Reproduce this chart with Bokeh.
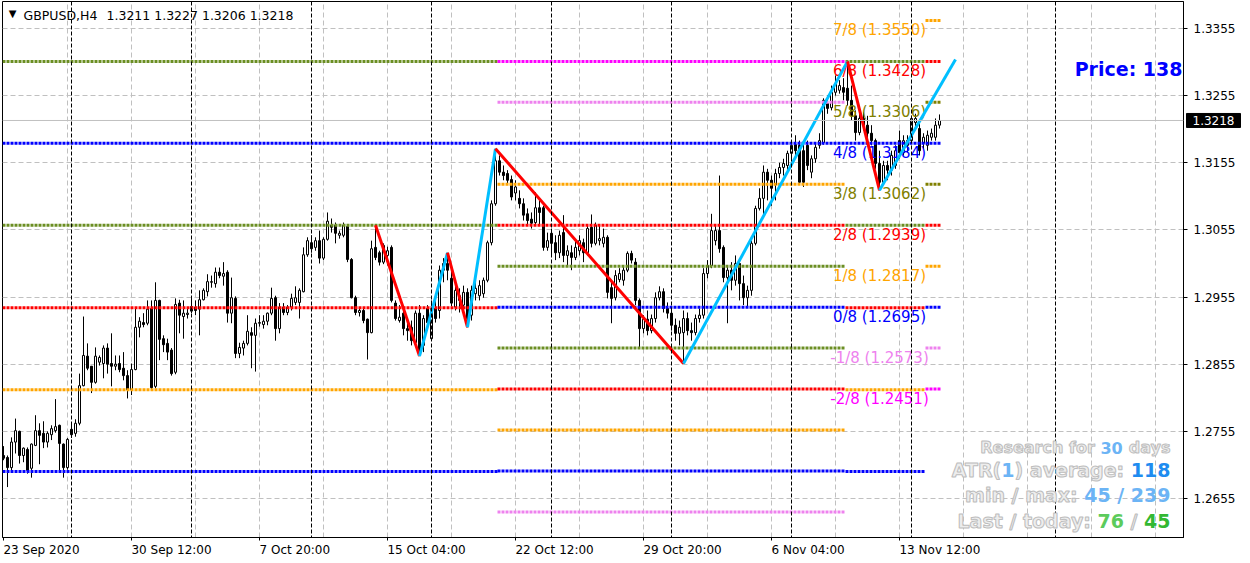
from bokeh.plotting import figure
from bokeh.models import Range1d, FixedTicker, Span, Label, ColumnDataSource, PrintfTickFormatter, LinearAxis
from bokeh.core.properties import value
from bokeh.embed import file_html
from bokeh.resources import INLINE

# ---------------- data ----------------
symbol = "GBPUSD,H4"
quote = "1.3211 1.3227 1.3206 1.3218"
last_price = 1.3218

opens = [
    1.2719, 1.2716, 1.2701, 1.2739, 1.2755, 1.2719, 1.2728, 1.2700, 1.2734, 1.2756,
    1.2752, 1.2739, 1.2750, 1.2756, 1.2764, 1.2736, 1.2701, 1.2758, 1.2752, 1.2767,
    1.2823, 1.2867, 1.2852, 1.2828, 1.2858, 1.2856, 1.2879, 1.2856, 1.2852, 1.2856,
    1.2849, 1.2838, 1.2817, 1.2847, 1.2910, 1.2917, 1.2916, 1.2938, 1.2822, 1.2950,
    1.2893, 1.2886, 1.2876, 1.2843, 1.2946, 1.2926, 1.2929, 1.2934, 1.2940, 1.2937,
    1.2951, 1.2963, 1.2977, 1.2975, 1.2992, 1.2986, 1.2992, 1.2931, 1.2953, 1.2871,
    1.2879, 1.2886, 1.2902, 1.2898, 1.2916, 1.2914, 1.2919, 1.2931, 1.2954, 1.2908,
    1.2940, 1.2932, 1.2940, 1.2947, 1.2947, 1.2963, 1.3018, 1.3036, 1.3029, 1.3039,
    1.3013, 1.3041, 1.3062, 1.3062, 1.3047, 1.3047, 1.3060, 1.3011, 1.2954, 1.2932,
    1.2935, 1.2922, 1.2902, 1.3029, 1.3021, 1.3007, 1.3017, 1.3029, 1.2946, 1.2920,
    1.2931, 1.2908, 1.2910, 1.2887, 1.2931, 1.2883, 1.2938, 1.2893, 1.2938, 1.2935,
    1.2995, 1.3005, 1.2983, 1.2940, 1.2950, 1.2943, 1.2962, 1.2928, 1.2960, 1.2957,
    1.2960, 1.2980, 1.3036, 1.3094, 1.3158, 1.3141, 1.3139, 1.3130, 1.3110, 1.3102,
    1.3094, 1.3079, 1.3071, 1.3066, 1.3088, 1.3088, 1.3029, 1.3050, 1.3036, 1.3021,
    1.3051, 1.3017, 1.3021, 1.3014, 1.3024, 1.3036, 1.3021, 1.3059, 1.3035, 1.3039,
    1.3035, 1.3044, 1.2969, 1.2954, 1.2981, 1.2980, 1.2995, 1.3020, 1.3007, 1.2950,
    1.2908, 1.2922, 1.2905, 1.2923, 1.2954, 1.2963, 1.2938, 1.2931, 1.2913, 1.2901,
    1.2902, 1.2923, 1.2905, 1.2902, 1.2923, 1.2928, 1.2990, 1.3002, 1.3039, 1.3054,
    1.3029, 1.2984, 1.2995, 1.2980, 1.3005, 1.2975, 1.2954, 1.2965, 1.3035, 1.3087,
    1.3102, 1.3141, 1.3129, 1.3122, 1.3139, 1.3148, 1.3151, 1.3169, 1.3182, 1.3181,
    1.3173, 1.3181, 1.3141, 1.3161, 1.3181, 1.3185, 1.3243, 1.3237, 1.3260, 1.3263,
    1.3267, 1.3266, 1.3248, 1.3225, 1.3200, 1.3221, 1.3211, 1.3199, 1.3188, 1.3154,
    1.3126, 1.3151, 1.3144, 1.3151, 1.3188, 1.3170, 1.3188, 1.3188, 1.3215, 1.3206,
    1.3184, 1.3181, 1.3193, 1.3193, 1.3211,
]
closes = [
    1.2715, 1.2701, 1.2739, 1.2756, 1.2719, 1.2730, 1.2697, 1.2736, 1.2756, 1.2749,
    1.2739, 1.2752, 1.2759, 1.2762, 1.2737, 1.2701, 1.2743, 1.2750, 1.2767, 1.2823,
    1.2868, 1.2849, 1.2828, 1.2867, 1.2865, 1.2879, 1.2855, 1.2852, 1.2855, 1.2847,
    1.2838, 1.2817, 1.2847, 1.2910, 1.2919, 1.2914, 1.2937, 1.2820, 1.2950, 1.2892,
    1.2884, 1.2873, 1.2841, 1.2944, 1.2928, 1.2931, 1.2931, 1.2941, 1.2935, 1.2951,
    1.2965, 1.2978, 1.2978, 1.2992, 1.2987, 1.2990, 1.2931, 1.2954, 1.2871, 1.2880,
    1.2886, 1.2904, 1.2898, 1.2916, 1.2917, 1.2919, 1.2931, 1.2953, 1.2908, 1.2940,
    1.2932, 1.2940, 1.2953, 1.2954, 1.2965, 1.3018, 1.3039, 1.3027, 1.3039, 1.3013,
    1.3041, 1.3068, 1.3059, 1.3050, 1.3050, 1.3062, 1.3011, 1.2954, 1.2932, 1.2935,
    1.2920, 1.2902, 1.3027, 1.3014, 1.3007, 1.3032, 1.3024, 1.2950, 1.2923, 1.2925,
    1.2908, 1.2905, 1.2890, 1.2931, 1.2876, 1.2923, 1.2917, 1.2938, 1.2923, 1.2995,
    1.3005, 1.2995, 1.2946, 1.2965, 1.2957, 1.2962, 1.2923, 1.2965, 1.2968, 1.2972,
    1.2980, 1.3036, 1.3094, 1.3158, 1.3141, 1.3136, 1.3129, 1.3104, 1.3119, 1.3094,
    1.3077, 1.3069, 1.3065, 1.3088, 1.3081, 1.3029, 1.3039, 1.3035, 1.3021, 1.3047,
    1.3017, 1.3024, 1.3014, 1.3029, 1.3039, 1.3021, 1.3057, 1.3035, 1.3062, 1.3042,
    1.3044, 1.2962, 1.2953, 1.2987, 1.2990, 1.2995, 1.3020, 1.3010, 1.2950, 1.2908,
    1.2922, 1.2905, 1.2923, 1.2954, 1.2963, 1.2938, 1.2931, 1.2913, 1.2901, 1.2910,
    1.2923, 1.2905, 1.2902, 1.2923, 1.2928, 1.2990, 1.3002, 1.3054, 1.3054, 1.3027,
    1.2984, 1.2995, 1.2980, 1.3005, 1.2975, 1.2954, 1.2965, 1.3035, 1.3087, 1.3102,
    1.3141, 1.3129, 1.3117, 1.3139, 1.3148, 1.3154, 1.3169, 1.3181, 1.3173, 1.3126,
    1.3126, 1.3151, 1.3161, 1.3178, 1.3188, 1.3248, 1.3236, 1.3260, 1.3273, 1.3270,
    1.3260, 1.3248, 1.3225, 1.3200, 1.3221, 1.3211, 1.3199, 1.3188, 1.3154, 1.3126,
    1.3151, 1.3144, 1.3166, 1.3173, 1.3170, 1.3188, 1.3181, 1.3221, 1.3221, 1.3173,
    1.3193, 1.3196, 1.3199, 1.3211, 1.3218,
]
highs = [
    1.2733, 1.2719, 1.2746, 1.2774, 1.2756, 1.2731, 1.2731, 1.2737, 1.2779, 1.2767,
    1.2770, 1.2755, 1.2764, 1.2803, 1.2765, 1.2737, 1.2745, 1.2767, 1.2773, 1.2841,
    1.2926, 1.2886, 1.2852, 1.2880, 1.2868, 1.2883, 1.2886, 1.2901, 1.2868, 1.2868,
    1.2873, 1.2846, 1.2856, 1.2938, 1.2925, 1.2931, 1.2950, 1.2950, 1.2977, 1.2951,
    1.2898, 1.2893, 1.2879, 1.2953, 1.2951, 1.2950, 1.2938, 1.2954, 1.2950, 1.2965,
    1.2968, 1.2989, 1.2987, 1.2999, 1.2999, 1.3007, 1.2995, 1.2984, 1.2956, 1.2887,
    1.2890, 1.2928, 1.2910, 1.2923, 1.2928, 1.2928, 1.2932, 1.2969, 1.2957, 1.2946,
    1.2946, 1.2943, 1.2960, 1.2971, 1.2968, 1.3029, 1.3044, 1.3047, 1.3044, 1.3054,
    1.3044, 1.3081, 1.3072, 1.3066, 1.3054, 1.3066, 1.3062, 1.3013, 1.2957, 1.2940,
    1.2940, 1.2923, 1.3039, 1.3062, 1.3024, 1.3035, 1.3030, 1.3032, 1.2950, 1.2943,
    1.2935, 1.2917, 1.2920, 1.2935, 1.2943, 1.2928, 1.2943, 1.2950, 1.2950, 1.3002,
    1.3013, 1.3021, 1.2998, 1.2972, 1.2968, 1.2972, 1.2968, 1.2972, 1.2977, 1.2980,
    1.2984, 1.3039, 1.3099, 1.3176, 1.3166, 1.3151, 1.3144, 1.3136, 1.3129, 1.3114,
    1.3102, 1.3087, 1.3081, 1.3111, 1.3099, 1.3091, 1.3051, 1.3057, 1.3047, 1.3054,
    1.3077, 1.3032, 1.3032, 1.3039, 1.3047, 1.3042, 1.3062, 1.3078, 1.3066, 1.3062,
    1.3057, 1.3047, 1.2980, 1.2995, 1.2998, 1.3002, 1.3023, 1.3024, 1.3013, 1.2953,
    1.2928, 1.2935, 1.2929, 1.2962, 1.2971, 1.2968, 1.2947, 1.2941, 1.2923, 1.2920,
    1.2935, 1.2932, 1.2917, 1.2929, 1.2938, 1.2998, 1.3010, 1.3079, 1.3062, 1.3136,
    1.3032, 1.3002, 1.3007, 1.3017, 1.3010, 1.2987, 1.2972, 1.3039, 1.3091, 1.3117,
    1.3151, 1.3146, 1.3136, 1.3146, 1.3155, 1.3161, 1.3173, 1.3185, 1.3196, 1.3188,
    1.3188, 1.3188, 1.3166, 1.3184, 1.3199, 1.3251, 1.3255, 1.3270, 1.3285, 1.3278,
    1.3281, 1.3306, 1.3270, 1.3233, 1.3230, 1.3230, 1.3225, 1.3211, 1.3191, 1.3173,
    1.3158, 1.3158, 1.3173, 1.3181, 1.3203, 1.3196, 1.3196, 1.3225, 1.3228, 1.3218,
    1.3199, 1.3203, 1.3206, 1.3221, 1.3227,
]
lows = [
    1.2712, 1.2672, 1.2697, 1.2722, 1.2707, 1.2709, 1.2692, 1.2686, 1.2733, 1.2706,
    1.2730, 1.2731, 1.2742, 1.2753, 1.2697, 1.2686, 1.2698, 1.2745, 1.2747, 1.2764,
    1.2822, 1.2846, 1.2812, 1.2826, 1.2853, 1.2834, 1.2841, 1.2822, 1.2846, 1.2843,
    1.2831, 1.2804, 1.2809, 1.2846, 1.2895, 1.2910, 1.2913, 1.2816, 1.2819, 1.2861,
    1.2873, 1.2861, 1.2838, 1.2840, 1.2901, 1.2893, 1.2923, 1.2931, 1.2928, 1.2898,
    1.2950, 1.2956, 1.2969, 1.2969, 1.2983, 1.2972, 1.2917, 1.2916, 1.2864, 1.2864,
    1.2868, 1.2883, 1.2849, 1.2844, 1.2911, 1.2908, 1.2913, 1.2928, 1.2890, 1.2901,
    1.2928, 1.2928, 1.2935, 1.2943, 1.2923, 1.2962, 1.3015, 1.3021, 1.3024, 1.3005,
    1.3010, 1.3039, 1.3051, 1.3035, 1.3042, 1.3044, 1.3007, 1.2953, 1.2928, 1.2926,
    1.2916, 1.2862, 1.2901, 1.3010, 1.3002, 1.3004, 1.3002, 1.2947, 1.2920, 1.2917,
    1.2898, 1.2890, 1.2883, 1.2883, 1.2867, 1.2873, 1.2905, 1.2890, 1.2917, 1.2923,
    1.2977, 1.2980, 1.2941, 1.2935, 1.2932, 1.2928, 1.2910, 1.2920, 1.2950, 1.2950,
    1.2954, 1.2977, 1.3032, 1.3091, 1.3136, 1.3129, 1.3122, 1.3099, 1.3099, 1.3087,
    1.3069, 1.3062, 1.3057, 1.3062, 1.3062, 1.3024, 1.3024, 1.3017, 1.3010, 1.3013,
    1.3007, 1.3002, 1.2995, 1.3010, 1.3017, 1.3007, 1.3017, 1.3029, 1.3032, 1.3032,
    1.3029, 1.2953, 1.2916, 1.2950, 1.2977, 1.2972, 1.2992, 1.3005, 1.2943, 1.2880,
    1.2901, 1.2898, 1.2901, 1.2917, 1.2950, 1.2932, 1.2923, 1.2905, 1.2890, 1.2883,
    1.2856, 1.2898, 1.2890, 1.2898, 1.2917, 1.2923, 1.2983, 1.2998, 1.3032, 1.3021,
    1.2977, 1.2916, 1.2965, 1.2972, 1.2950, 1.2943, 1.2941, 1.2957, 1.3032, 1.3084,
    1.3077, 1.3099, 1.3091, 1.3099, 1.3132, 1.3136, 1.3144, 1.3161, 1.3166, 1.3122,
    1.3119, 1.3144, 1.3132, 1.3155, 1.3176, 1.3182, 1.3228, 1.3233, 1.3255, 1.3258,
    1.3248, 1.3240, 1.3218, 1.3188, 1.3196, 1.3203, 1.3188, 1.3181, 1.3146, 1.3114,
    1.3122, 1.3129, 1.3136, 1.3146, 1.3161, 1.3166, 1.3170, 1.3185, 1.3206, 1.3166,
    1.3176, 1.3173, 1.3188, 1.3188, 1.3206,
]
assert len(opens) == len(closes) == len(highs) == len(lows) == 235

price_ticks = [1.2655, 1.2755, 1.2855, 1.2955, 1.3055, 1.3155, 1.3255, 1.3355]
date_ticks = [0, 32, 64, 96, 128, 160, 192, 224]
date_labels = ["23 Sep 2020", "30 Sep 12:00", "7 Oct 20:00", "15 Oct 04:00",
               "22 Oct 12:00", "29 Oct 20:00", "6 Nov 04:00", "13 Nov 12:00"]
grid_bars = list(range(16, 289, 16))
week_separators = [17, 47, 77, 107, 137, 167, 197, 227, 263]

# ZigZag turning points (bar index, price)
zz_bars = [93, 104, 111, 116, 123, 170, 211, 219, 238]
zz_prices = [1.3062, 1.2867, 1.3021, 1.2910, 1.3176, 1.2856, 1.3306, 1.3114, 1.3309]

# Murrey math levels
big_levels = [1.3306, 1.3184, 1.3062, 1.2939, 1.2817, 1.2695]
big_colors = ["#6B8E23", "#0000FF", "#6B8E23", "#FF0000", "#FFA500", "#0000FF"]
big_spans = [(-0.25, 123.5), (210.5, 230.5)]
small_levels = [1.3306, 1.3245, 1.3184, 1.3123, 1.3062, 1.3001,
                1.2940, 1.2879, 1.2818, 1.2757, 1.2696, 1.2635]
small_colors = ["#FF00FF", "#EE82EE", "#0000FF", "#FFA500", "#FF0000", "#6B8E23",
                "#0000FF", "#6B8E23", "#FF0000", "#FFA500", "#0000FF", "#EE82EE"]
small_span = (123.5, 210.5)
label_levels = [1.3367, 1.3306, 1.3245, 1.3184, 1.3123, 1.3062, 1.3001, 1.2940, 1.2879, 1.2818]
label_texts = ["7/8 (1.3550)", "6/8 (1.3428)", "5/8 (1.3306)", "4/8 (1.3184)", "3/8 (1.3062)",
               "2/8 (1.2939)", "1/8 (1.2817)", "0/8 (1.2695)", "-1/8 (1.2573)", "-2/8 (1.2451)"]
label_colors = ["#FFA500", "#FF0000", "#808000", "#0000FF", "#808000",
                "#FF0000", "#FFA500", "#0000FF", "#EE82EE", "#FF00FF"]
label_line_span = (230.5, 234.25)

# ---------------- layout ----------------
BL, BT, BR, BB = 2, 1, 64, 24
FRAME_W, FRAME_H = 1181, 536
PX = 1 / 6714.0                      # price per pixel
BAR_PX = 4.0                         # pixels per bar
X_START = -0.25
X_END = X_START + FRAME_W / BAR_PX
Y_END = 1.3355 + 27 * PX
Y_START = Y_END - FRAME_H * PX


def sx(xpage):
    return X_START + (xpage - BL) / BAR_PX


def sy(ypage):
    return Y_END - (ypage - BT) * PX


p = figure(frame_width=FRAME_W, frame_height=FRAME_H,
           x_range=Range1d(X_START, X_END), y_range=Range1d(Y_START, Y_END),
           y_axis_location="right", output_backend="svg", toolbar_location=None,
           min_border_left=BL, min_border_top=BT, min_border_right=BR, min_border_bottom=BB,
           background_fill_color="white", border_fill_color="white",
           outline_line_color="black", outline_line_width=1)

# price axis (right)
p.yaxis.ticker = FixedTicker(ticks=price_ticks)
p.yaxis.formatter = PrintfTickFormatter(format="%.4f")
p.yaxis.major_tick_out = 4
p.yaxis.major_label_standoff = 6

# time axis: tick marks at the bars
p.xaxis.ticker = FixedTicker(ticks=date_ticks)
p.xaxis.major_label_overrides = {t: "" for t in date_ticks}
p.xaxis.major_label_text_font_size = "0px"
p.xaxis.major_label_standoff = 0
p.xaxis.major_tick_out = 3

for ax in (p.xaxis, p.yaxis):
    ax.axis_line_color = "black"
    ax.major_tick_line_color = "black"
    ax.minor_tick_line_color = None
    ax.major_tick_in = 0
p.yaxis.major_label_text_font = "DejaVu Sans"
p.yaxis.major_label_text_font_size = "12px"
p.yaxis.major_label_text_color = "black"

# time labels: MT4 draws them starting at the tick, so centre each label half its width to the right
CW = {d: 0.636 for d in "0123456789"}
CW.update({" ": 0.318, ":": 0.337, "S": 0.635, "e": 0.615, "p": 0.635, "O": 0.787,
           "c": 0.550, "t": 0.392, "N": 0.748, "o": 0.612, "v": 0.592})
centres = [t + sum(CW.get(ch, 0.6) for ch in s) * 12 / 2 / BAR_PX for t, s in zip(date_ticks, date_labels)]
time_labels = LinearAxis(ticker=FixedTicker(ticks=centres),
                         major_label_overrides={c: s for c, s in zip(centres, date_labels)},
                         axis_line_color=None, major_tick_line_color=None, minor_tick_line_color=None,
                         major_tick_in=0, major_tick_out=0, major_label_standoff=2,
                         major_label_text_font="DejaVu Sans", major_label_text_font_size="12px",
                         major_label_text_color="black")
p.add_layout(time_labels, "below")

# grids
p.xgrid.ticker = FixedTicker(ticks=grid_bars)
p.ygrid.ticker = FixedTicker(ticks=price_ticks)
for g in (p.xgrid, p.ygrid):
    g.grid_line_color = "#C0C0C0"
    g.grid_line_dash = "5 3"
    g.grid_line_width = 1

for b in week_separators:
    p.add_layout(Span(location=b, dimension="height", line_color="black",
                      line_dash="4 2", line_width=1))

p.add_layout(Span(location=last_price, dimension="width", line_color="#C0C0C0", line_width=1))

# candles
idx = list(range(len(opens)))
up = [c >= o for o, c in zip(opens, closes)]
src = ColumnDataSource(dict(
    x=idx, h=highs, l=lows,
    top=[max(o, c) for o, c in zip(opens, closes)],
    bottom=[min(o, c) for o, c in zip(opens, closes)],
    fill=["white" if u else "black" for u in up],
))
p.segment(x0="x", y0="h", x1="x", y1="l", source=src, line_color="black", line_width=1)
p.vbar(x="x", width=0.5, top="top", bottom="bottom", source=src,
       fill_color="fill", line_color="black", line_width=1)

# Murrey lines
mx0, mx1, my, mc = [], [], [], []
for a, b in big_spans:
    for lvl, col in zip(big_levels, big_colors):
        mx0.append(a); mx1.append(b); my.append(lvl); mc.append(col)
for lvl, col in zip(small_levels, small_colors):
    mx0.append(small_span[0]); mx1.append(small_span[1]); my.append(lvl); mc.append(col)
for lvl, col in zip(label_levels, label_colors):
    mx0.append(label_line_span[0]); mx1.append(label_line_span[1]); my.append(lvl); mc.append(col)
p.segment(x0=mx0, y0=my, x1=mx1, y1=my, line_color=mc, line_width=3, line_dash="3 1")

# Murrey labels
p.text(x=[sx(879)] * len(label_levels), y=[l - 10 * PX for l in label_levels], text=label_texts,
       text_color=label_colors, text_font=value("DejaVu Sans"), text_font_size=value("15px"),
       text_align="center", text_baseline="middle")

# ZigZag
zc = ["#FF0000" if b < a else "#00BFFF" for a, b in zip(zz_prices[:-1], zz_prices[1:])]
p.segment(x0=zz_bars[:-1], y0=zz_prices[:-1], x1=zz_bars[1:], y1=zz_prices[1:],
          line_color=zc, line_width=3)

# header
p.add_layout(Label(x=sx(12), y=sy(13), text="\u25BC", text_font="DejaVu Sans",
                   text_font_size="10px", text_align="center", text_baseline="middle",
                   text_color="black"))
p.add_layout(Label(x=sx(23), y=sy(15), text=symbol, text_font="DejaVu Sans",
                   text_font_size="12.5px", text_align="left", text_baseline="middle",
                   text_color="black"))
p.add_layout(Label(x=sx(106), y=sy(15), text=quote, text_font="DejaVu Sans",
                   text_font_size="12.5px", text_align="left", text_baseline="middle",
                   text_color="black"))

# Price label
p.add_layout(Label(x=sx(1182), y=sy(68), text="Price: 138", text_font="DejaVu Sans",
                   text_font_style="bold", text_font_size="19px", text_align="right",
                   text_baseline="middle", text_color="#0000FF"))

# current price marker on the price axis (overlay level so it is not clipped to the frame)
p.rect(x=[sx(1213)], y=[last_price], width=54 / BAR_PX, height=14 * PX,
       fill_color="black", line_color="black", level="overlay")
p.text(x=[sx(1213)], y=[last_price], text=[f"{last_price:.4f}"], text_color="white",
       text_font=value("DejaVu Sans"), text_font_size=value("12px"),
       text_align="center", text_baseline="middle", level="overlay")

# ATR research block
GRAY, GRAY_OUT = "#EDEDED", "#BDBDBD"
LBLUE, DBLUE, G1, G2 = "#6CB4F5", "#1E8CF0", "#5CCB5C", "#33B833"
block = [
    ("Research for", 1094.3, 447, 16, GRAY), ("30", 1122.2, 447, 16, LBLUE), ("days", 1170, 447, 16, GRAY),
    ("ATR(", 1000.8, 469, 19, GRAY), ("1", 1014, 469, 19, LBLUE),
    (") average:", 1123.7, 469, 19, GRAY), ("118", 1170, 469, 19, DBLUE),
    ("min / max:", 1077.1, 494, 19, GRAY), ("45 / 239", 1170, 494, 19, LBLUE),
    ("Last / today:", 1090.4, 520, 19, GRAY), ("76", 1123.4, 520, 19, G1),
    ("/", 1137, 520, 19, GRAY), ("45", 1170, 520, 19, G2),
]
for t, xr, yc, fs, col in block:
    kw = dict(text_outline_color=GRAY_OUT) if col == GRAY else {}
    p.add_layout(Label(x=sx(xr), y=sy(yc), text=t, text_font="DejaVu Sans", text_font_style="bold",
                       text_font_size=f"{fs}px", text_align="right", text_baseline="middle",
                       text_color=col, **kw))

open("out.html", "w").write(file_html(p, INLINE))
